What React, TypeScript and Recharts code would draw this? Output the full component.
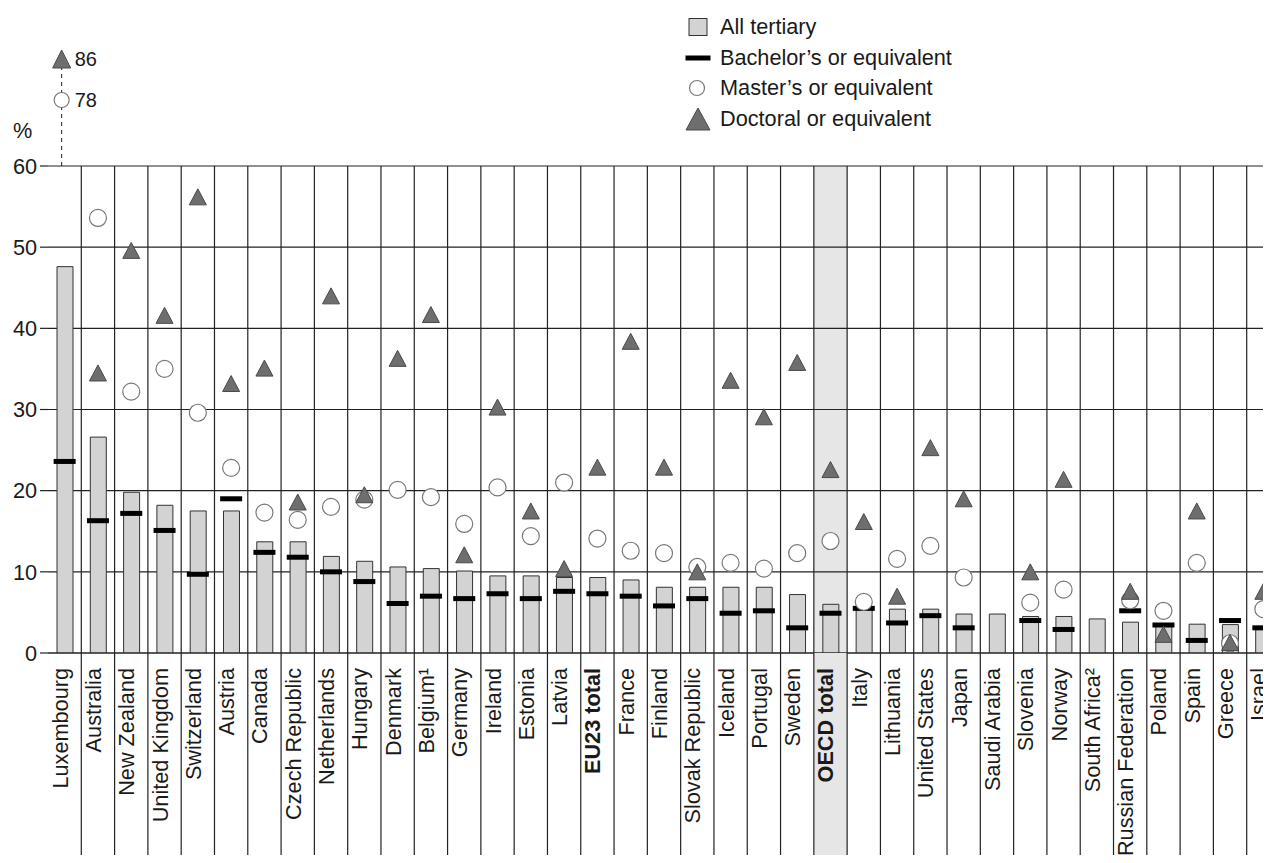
import React from 'react'
import { ComposedChart, Bar, Scatter, XAxis, YAxis, CartesianGrid, Legend, ReferenceDot } from 'recharts'

const categories = [
  'Luxembourg', 'Australia', 'New Zealand', 'United Kingdom', 'Switzerland', 'Austria', 'Canada',
  'Czech Republic', 'Netherlands', 'Hungary', 'Denmark', 'Belgium¹', 'Germany', 'Ireland', 'Estonia',
  'Latvia', 'EU23 total', 'France', 'Finland', 'Slovak Republic', 'Iceland', 'Portugal', 'Sweden',
  'OECD total', 'Italy', 'Lithuania', 'United States', 'Japan', 'Saudi Arabia', 'Slovenia', 'Norway',
  'South Africa²', 'Russian Federation', 'Poland', 'Spain', 'Greece', 'Israel',
]

const allTertiary = [
  47.6, 26.6, 19.8, 18.2, 17.5, 17.5, 13.7, 13.7, 11.9, 11.3, 10.6, 10.4, 10.1, 9.5, 9.5,
  9.3, 9.3, 9.0, 8.1, 8.1, 8.1, 8.1, 7.2, 6.0, 5.6, 5.4, 5.4, 4.8, 4.8, 4.5, 4.5,
  4.2, 3.8, 3.6, 3.55, 3.5, 3.1,
]

const bachelor = [
  23.6, 16.3, 17.2, 15.1, 9.7, 19.0, 12.4, 11.8, 10.0, 8.8, 6.1, 7.0, 6.7, 7.3, 6.7,
  7.6, 7.3, 7.0, 5.8, 6.7, 4.9, 5.2, 3.1, 4.9, 5.5, 3.7, 4.6, 3.1, null, 4.0, 2.9,
  null, 5.2, 3.45, 1.55, 4.0, 3.1,
]

const master = [
  78, 53.6, 32.2, 35.0, 29.6, 22.8, 17.3, 16.4, 18.0, 18.9, 20.1, 19.2, 15.9, 20.4, 14.4,
  21.0, 14.1, 12.6, 12.3, 10.6, 11.1, 10.4, 12.3, 13.8, 6.3, 11.6, 13.2, 9.3, null, 6.2, 7.8,
  null, 6.5, 5.2, 11.1, 1.2, 5.4,
]

const doctoral = [
  86, 34.5, 49.6, 41.6, 56.2, 33.2, 35.1, 18.6, 44.0, 19.5, 36.3, 41.7, 12.1, 30.3, 17.5,
  10.4, 22.9, 38.4, 22.9, 10.0, 33.6, 29.1, 35.8, 22.6, 16.2, 7.0, 25.3, 19.0, null, 10.0, 21.4,
  null, 7.6, 2.3, 17.5, 1.3, 7.6,
]

const yTicks = [0, 10, 20, 30, 40, 50, 60]
const boldCategories = ['EU23 total', 'OECD total']
const highlighted = 'OECD total'

const Y_MAX = 60
const CHART_W = 1290
const CHART_H = 863
const MARGIN_TOP = 166
const MARGIN_RIGHT = 10
const Y_AXIS_W = 48
const X_AXIS_H = CHART_H - 653
const TICK_SIZE = 6
const TICK_MARGIN = 9
const PLOT_W = CHART_W - Y_AXIS_W - MARGIN_RIGHT
const BAND = PLOT_W / categories.length

const FONT = '"Liberation Sans", Arial, sans-serif'
const FONT_SIZE = 21.7
const INK = '#1a1a1a'
const LINE = '#222'
const LINE_W = 1.2
const SHADE = '#e6e6e6'
const BAR_FILL = '#d3d3d3'
const BAR_STROKE = '#333'
const RING = '#777'
const TRI_FILL = '#6e6e6e'
const TRI_STROKE = '#4a4a4a'

// off-scale marks go above the axis break
const BREAK_FIRST = 66
const BREAK_STEP = 41

const onScale = (v: number | null) => (v == null || v > Y_MAX ? null : v)

const rows = categories.map((name, i) => ({
  name,
  all: allTertiary[i],
  bachelor: bachelor[i],
  master: onScale(master[i]),
  doctoral: onScale(doctoral[i]),
}))

const offScale = categories
  .map((name, i) => ({
    name,
    marks: [
      { kind: 'master', value: master[i] },
      { kind: 'doctoral', value: doctoral[i] },
    ].filter((m) => m.value != null && m.value > Y_MAX) as { kind: string; value: number }[],
  }))
  .filter((c) => c.marks.length > 0)

const bad = (v: any) => v == null || Number.isNaN(v)

const Ring = ({ cx, cy, r = 8.5 }: any) =>
  bad(cy) ? <g /> : <circle cx={cx} cy={cy} r={r} fill="#fff" stroke={RING} strokeWidth={1.2} />

const Triangle = ({ cx, cy, w = 17, h = 16 }: any) =>
  bad(cy) ? (
    <g />
  ) : (
    <polygon
      points={`${cx},${cy - h / 2} ${cx + w / 2},${cy + h / 2} ${cx - w / 2},${cy + h / 2}`}
      fill={TRI_FILL}
      stroke={TRI_STROKE}
      strokeWidth={1}
    />
  )

const Dash = ({ cx, cy }: any) =>
  bad(cy) ? <g /> : <rect x={cx - 11} y={cy - 2.5} width={22} height={5} fill="#000" />

const BreakMarks = ({ cx, cy, marks }: any) => {
  const sorted = [...marks].sort((a, b) => a.value - b.value)
  const x = cx - 3
  const topY = cy - BREAK_FIRST - (sorted.length - 1) * BREAK_STEP
  return (
    <g>
      <line x1={x} x2={x} y1={cy} y2={topY + 9} stroke={LINE} strokeDasharray="4 4" />
      {sorted.map((m, k) => {
        const my = cy - BREAK_FIRST - k * BREAK_STEP
        return (
          <g key={m.kind}>
            {m.kind === 'master' ? <Ring cx={x} cy={my} r={7.5} /> : <Triangle cx={x} cy={my} w={18} h={18} />}
            <text x={x + 13} y={my} dy="0.36em" fontSize={20} fontFamily={FONT} fill={INK}>
              {m.value}
            </text>
          </g>
        )
      })}
    </g>
  )
}

const CategoryTick = (props: any) => {
  const { x, y, payload } = props
  const name = payload.value as string
  const index = categories.indexOf(name)
  const left = x - BAND / 2
  const axisY = y - TICK_SIZE - TICK_MARGIN
  return (
    <g>
      {name === highlighted && (
        <rect x={left} y={axisY} width={BAND} height={CHART_H - axisY} fill={SHADE} />
      )}
      {index > 0 && <line x1={left} x2={left} y1={MARGIN_TOP} y2={CHART_H} stroke={LINE} strokeWidth={LINE_W} />}
      <text
        transform={`translate(${x + 3},${y}) rotate(-90)`}
        textAnchor="end"
        fontSize={FONT_SIZE}
        fontFamily={FONT}
        fontWeight={boldCategories.includes(name) ? 'bold' : 'normal'}
        fill={INK}
      >
        {name}
      </text>
    </g>
  )
}

const legendOrder = ['all', 'bachelor', 'master', 'doctoral']

const legendIcon = (key: string) => {
  switch (key) {
    case 'all':
      return <rect x={6} y={4.5} width={18} height={17} fill={BAR_FILL} stroke={BAR_STROKE} />
    case 'bachelor':
      return <rect x={2.5} y={10.5} width={25} height={5} fill="#000" />
    case 'master':
      return <circle cx={14} cy={13} r={7.5} fill="#fff" stroke={RING} strokeWidth={1.2} />
    default:
      return <polygon points="15,2 27,24 3,24" fill={TRI_FILL} stroke={TRI_STROKE} />
  }
}

const LegendContent = ({ payload }: any) => {
  const items = [...(payload ?? [])].sort(
    (a: any, b: any) => legendOrder.indexOf(a.dataKey) - legendOrder.indexOf(b.dataKey),
  )
  return (
    <div style={{ fontFamily: FONT, fontSize: FONT_SIZE, color: INK }}>
      {items.map((e: any) => (
        <div key={e.dataKey} style={{ display: 'flex', alignItems: 'center', height: 30.5, whiteSpace: 'nowrap' }}>
          <svg width={30} height={26} style={{ marginRight: 7, flex: 'none' }}>
            {legendIcon(e.dataKey)}
          </svg>
          <span>{e.value}</span>
        </div>
      ))}
    </div>
  )
}

export default function App() {
  return (
    <div style={{ margin: -8, width: 1271, height: CHART_H, overflow: 'hidden', position: 'relative', background: '#fff' }}>
      <ComposedChart
        width={CHART_W}
        height={CHART_H}
        data={rows}
        margin={{ top: MARGIN_TOP, right: MARGIN_RIGHT, bottom: 0, left: 0 }}
      >
        <CartesianGrid
          stroke={LINE}
          strokeWidth={LINE_W}
          horizontal
          vertical={(p: any) => <g key={p.key} />}
          verticalPoints={categories.map((_, i) => Y_AXIS_W + i * BAND)}
          verticalFill={categories.map((c) => (c === highlighted ? SHADE : 'none'))}
        />
        <XAxis
          dataKey="name"
          type="category"
          interval={0}
          height={X_AXIS_H}
          tickLine={false}
          tickSize={TICK_SIZE}
          tickMargin={TICK_MARGIN}
          axisLine={{ stroke: LINE, strokeWidth: LINE_W }}
          tick={(p: any) => <CategoryTick {...p} />}
        />
        <YAxis
          type="number"
          domain={[0, Y_MAX]}
          ticks={yTicks}
          allowDataOverflow
          interval={0}
          width={Y_AXIS_W}
          axisLine={false}
          tickLine={{ stroke: LINE, strokeWidth: LINE_W }}
          tickSize={8}
          tickMargin={3}
          tick={{ fill: INK, fontSize: FONT_SIZE, fontFamily: FONT }}
          label={{
            content: (p: any) => (
              <text x={(p.viewBox?.x ?? 0) + 13} y={(p.viewBox?.y ?? MARGIN_TOP) - 28} fontSize={FONT_SIZE} fontFamily={FONT} fill={INK}>
                %
              </text>
            ),
          }}
        />
        <Legend
          layout="horizontal"
          align="center"
          verticalAlign="middle"
          content={<LegendContent />}
          wrapperStyle={{ position: 'absolute', left: 683, top: 12, width: 'auto', height: 'auto' }}
        />
        <Bar
          dataKey="all"
          name="All tertiary"
          barSize={16}
          fill={BAR_FILL}
          stroke={BAR_STROKE}
          strokeWidth={1}
          isAnimationActive={false}
        />
        <Scatter
          dataKey="bachelor"
          name="Bachelor’s or equivalent"
          fill="#000"
          shape={(p: any) => <Dash {...p} />}
          isAnimationActive={false}
        />
        <Scatter
          dataKey="master"
          name="Master’s or equivalent"
          fill="#fff"
          shape={(p: any) => <Ring {...p} />}
          isAnimationActive={false}
        />
        <Scatter
          dataKey="doctoral"
          name="Doctoral or equivalent"
          fill={TRI_FILL}
          shape={(p: any) => <Triangle {...p} />}
          isAnimationActive={false}
        />
        {offScale.map((c) => (
          <ReferenceDot
            key={c.name}
            x={c.name}
            y={Y_MAX}
            ifOverflow="visible"
            shape={(p: any) => <BreakMarks {...p} marks={c.marks} />}
          />
        ))}
      </ComposedChart>
    </div>
  )
}
